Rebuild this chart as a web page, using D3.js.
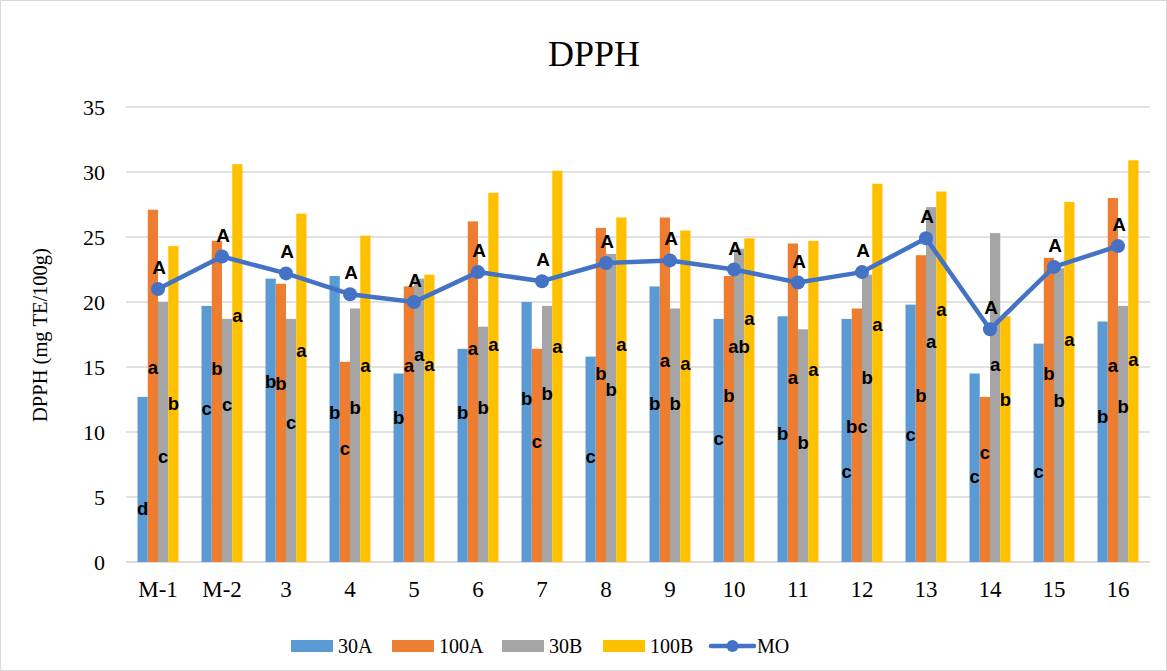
<!DOCTYPE html>
<html><head><meta charset="utf-8">
<script src="https://cdn.jsdelivr.net/npm/d3@7"></script>
<style>body{margin:0;background:#fff}svg{display:block}</style>
</head><body>
<svg id="c" width="1167" height="671"></svg>
<script>
const categories = ["M-1","M-2","3","4","5","6","7","8","9","10","11","12","13","14","15","16"];
const seriesNames = ["30A","100A","30B","100B"];
const s30A  = [12.7,19.7,21.8,22.0,14.5,16.4,20.0,15.8,21.2,18.7,18.9,18.7,19.8,14.5,16.8,18.5];
const s100A = [27.1,24.7,21.4,15.4,21.2,26.2,16.4,25.7,26.5,22.0,24.5,19.5,23.6,12.7,23.4,28.0];
const s30B  = [20.0,18.7,18.7,19.5,21.8,18.1,19.7,23.7,19.5,24.1,17.9,22.1,27.3,25.3,22.6,19.7];
const s100B = [24.3,30.6,26.8,25.1,22.1,28.4,30.1,26.5,25.5,24.9,24.7,29.1,28.5,18.9,27.7,30.9];
const sMO   = [21.0,23.5,22.2,20.6,20.0,22.3,21.6,23.0,23.2,22.5,21.5,22.3,24.9,17.9,22.7,24.3];
// significance letters per series
const let30A  = ["d","c","b","b","b","b","b","c","b","c","b","c","c","c","c","b"];
const let100A = ["a","b","b","c","a","a","c","b","a","b","a","bc","b","c","b","a"];
const let30B  = ["c","c","c","b","a","b","b","b","b","ab","b","b","a","a","b","b"];
const let100B = ["b","a","a","a","a","a","a","a","a","a","a","a","a","b","a","a"];
const letMO   = Array(16).fill("A");
// letter anchor heights (data units, baseline)
const lh30A  = [3.6,11.3,13.4,11.0,10.6,11.0,12.1,7.6,11.7,9.0,9.4,6.5,9.3,6.1,6.5,10.7];
const lh100A = [14.5,14.4,13.2,8.2,14.6,15.9,8.8,14.0,15.0,12.3,13.7,9.9,12.3,7.9,14.0,14.6];
const lh30B  = [7.6,11.6,10.2,11.4,15.5,11.4,12.5,12.8,11.7,16.1,8.7,13.7,16.5,14.7,11.9,11.5];
const lh100B = [11.7,18.5,15.8,14.6,14.7,16.2,16.1,16.2,14.8,18.2,14.3,17.8,18.9,12.0,16.6,15.1];
const yTicks = [0,5,10,15,20,25,30,35];

const series = [s30A,s100A,s30B,s100B];
const letters = [let30A,let100A,let30B,let100B];
const letH = [lh30A,lh100A,lh30B,lh100B];
const colors = ["#5B9BD5","#ED7D31","#A5A5A5","#FFC000"];
const moColor = "#4472C4";
const serif = "'Liberation Serif','Times New Roman',serif";
const sans = "'Liberation Sans',Arial,sans-serif";

const svg = d3.select("#c");
svg.append("rect").attr("x",0.5).attr("y",0.5).attr("width",1166).attr("height",670)
  .attr("fill","#fff").attr("stroke","#d9d9d9");

const x = d3.scaleBand().domain(categories).range([126,1150]).paddingInner(0.36).paddingOuter(0.18);
const xs = d3.scaleBand().domain(seriesNames).range([0,x.bandwidth()]);
const y = d3.scaleLinear().domain([0,35]).range([562,107]);

// gridlines
svg.append("g").selectAll("line").data(yTicks).join("line")
  .attr("x1",126).attr("x2",1150).attr("y1",d=>y(d)).attr("y2",d=>y(d))
  .attr("stroke",d=>d===0?"#d0d0d0":"#d9d9d9").attr("stroke-width",1.3);

// y axis labels
const ya = svg.append("g").attr("transform","translate(105,0)")
  .call(d3.axisLeft(y).tickValues(yTicks).tickSize(0).tickPadding(0));
ya.select(".domain").remove();
ya.selectAll("text").attr("font-family",serif).attr("font-size",22).attr("fill","#000").attr("dy","0.36em");

// x axis labels
const xa = svg.append("g").attr("transform","translate(0,581)")
  .call(d3.axisBottom(x).tickSize(0).tickPadding(0));
xa.select(".domain").remove();
xa.selectAll("text").attr("font-family",serif).attr("font-size",23).attr("fill","#000");

// bars
series.forEach((s,i)=>{
  svg.append("g").selectAll("rect").data(s).join("rect")
    .attr("x",(d,j)=>x(categories[j])+xs(seriesNames[i]))
    .attr("width",xs.bandwidth())
    .attr("y",d=>y(d)).attr("height",d=>y(0)-y(d))
    .attr("fill",colors[i]);
});

// MO line
const line = d3.line().x((d,j)=>x(categories[j])+x.bandwidth()/2).y(d=>y(d));
svg.append("path").datum(sMO).attr("d",line).attr("fill","none")
  .attr("stroke",moColor).attr("stroke-width",4.5).attr("stroke-linejoin","round");
svg.append("g").selectAll("circle").data(sMO).join("circle")
  .attr("cx",(d,j)=>x(categories[j])+x.bandwidth()/2).attr("cy",d=>y(d)).attr("r",7)
  .attr("fill",moColor);

// letters on bars
letters.forEach((L,i)=>{
  svg.append("g").selectAll("text").data(L).join("text")
    .attr("x",(d,j)=>x(categories[j])+xs(seriesNames[i])+xs.bandwidth()/2)
    .attr("y",(d,j)=>y(letH[i][j]))
    .attr("text-anchor","middle").attr("font-family",sans).attr("font-weight","bold")
    .attr("font-size",18.5).attr("fill","#000").text(d=>d);
});
svg.append("g").selectAll("text").data(letMO).join("text")
  .attr("x",(d,j)=>x(categories[j])+x.bandwidth()/2+1)
  .attr("y",(d,j)=>y(sMO[j])-15)
  .attr("text-anchor","middle").attr("font-family",sans).attr("font-weight","bold")
  .attr("font-size",19).attr("fill","#000").text(d=>d);

// title
svg.append("text").attr("x",594).attr("y",66).attr("text-anchor","middle")
  .attr("font-family",serif).attr("font-size",36).attr("fill","#000").text("DPPH");
// y title
svg.append("text").attr("transform","translate(47,335) rotate(-90)").attr("text-anchor","middle")
  .attr("font-family",serif).attr("font-size",20.5).attr("fill","#000").text("DPPH (mg TE/100g)");

// legend
const leg = [{n:"30A",x:291},{n:"100A",x:392},{n:"30B",x:502},{n:"100B",x:603}];
leg.forEach((l,i)=>{
  svg.append("rect").attr("x",l.x).attr("y",640).attr("width",42).attr("height",12).attr("fill",colors[i]);
  svg.append("text").attr("x",l.x+47).attr("y",653).attr("font-family",serif).attr("font-size",20)
    .attr("fill","#000").text(l.n);
});
svg.append("line").attr("x1",711).attr("x2",754).attr("y1",646).attr("y2",646)
  .attr("stroke",moColor).attr("stroke-width",4.5).attr("stroke-linecap","round");
svg.append("circle").attr("cx",732.5).attr("cy",646).attr("r",6).attr("fill",moColor);
svg.append("text").attr("x",757).attr("y",653).attr("font-family",serif).attr("font-size",20)
  .attr("fill","#000").text("MO");
</script>
</body></html>
